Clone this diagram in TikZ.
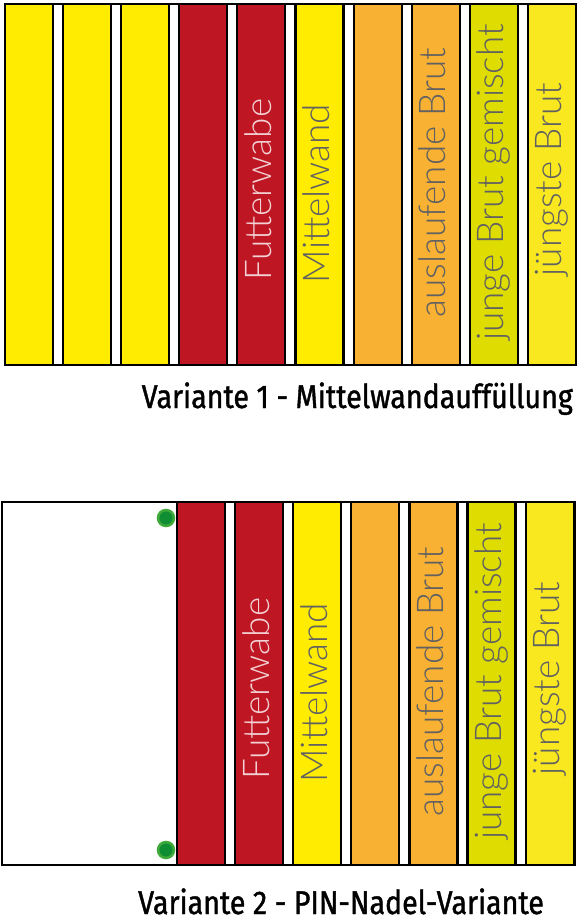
\documentclass[tikz,border=0pt]{standalone}
\usepackage{fontspec}
\setmainfont{Fira Sans}
\newfontfamily\capfont{Fira Sans}[FakeStretch=0.87,FakeBold=1.2]
\newfontfamily\labfont{Lato Light}
\usetikzlibrary{calc}

\definecolor{wabegelb}{HTML}{FFEC00}
\definecolor{waberot}{HTML}{BE1622}
\definecolor{wabeorange}{HTML}{F8B133}
\definecolor{wabeoliv}{HTML}{DEDC00}
\definecolor{wabehell}{HTML}{F9E81F}
\definecolor{pinhell}{HTML}{3FAA3A}
\definecolor{pindunkel}{HTML}{0F8D33}

\begin{document}
\begin{tikzpicture}[x=1bp,y=-1bp,
            frame/.style={line width=2.2,draw=black,fill=white},
            comb/.style={line width=2.2,draw=black},
            label/.style={rotate=90,font=\labfont\fontsize{37}{37}\selectfont,text=black!62,inner sep=0},
            caption/.style={font=\capfont\fontsize{33}{33}\selectfont,inner sep=0},
            pin/.style={circle,fill=pindunkel,draw=pinhell,line width=2.6,minimum size=16,inner sep=0}
            ]
            \useasboundingbox (0,0) rectangle (578,924);
            \def\P{58.1} % comb pitch
            \def\w{48}   % comb width

            % Variante 1
            \draw[frame] (5,4) rectangle (576,365);
            \foreach \i/\c/\t/\f/\o in {0/wabegelb//black!62/0,1/wabegelb//black!62/0,2/wabegelb//black!62/0,
                    3/waberot//black!62/0,4/waberot/Futterwabe/white!80!waberot/5,5/wabegelb/Mittelwand/black!62/9,
                    6/wabeorange//black!62/0,7/wabeorange/auslaufende Brut/black!62/-2,
                    8/wabeoliv/junge Brut gemischt/black!62/-2,9/wabehell/jüngste Brut/black!62/-5} {
                \draw[comb,fill=\c] (5+\P*\i,4) rectangle ++(\w,361);
                \node[label,text=\f,anchor=base] (a\i) at (5+\P*\i+\w/2+10,184.5+\o) {\t};
            }
            \node[caption,anchor=base east] (var1) at (573,408) {Variante 1 - Mittelwandauffüllung};

            % Variante 2
            \draw[frame] (2,502) rectangle (575,865);
            \foreach \i/\c/\t/\f/\o in {0/waberot//black!62/0,1/waberot/Futterwabe/white!80!waberot/5,2/wabegelb/Mittelwand/black!62/9,
                    3/wabeorange//black!62/0,4/wabeorange/auslaufende Brut/black!62/-2,
                    5/wabeoliv/junge Brut gemischt/black!62/-2,6/wabehell/jüngste Brut/black!62/-5} {
                \draw[comb,fill=\c] (177+\P*\i,502) rectangle ++(\w,363);
                \node[label,text=\f,anchor=base] (b\i) at (177+\P*\i+\w/2+10,683.5+\o) {\t};
            }
            \node[pin] (pinoben) at (166,518) {};
            \node[pin] (pinunten) at (166,850) {};
            \node[caption,anchor=base west] (var2) at (138,914) {Variante 2 - PIN-Nadel-Variante};
        \end{tikzpicture}
\end{document}
